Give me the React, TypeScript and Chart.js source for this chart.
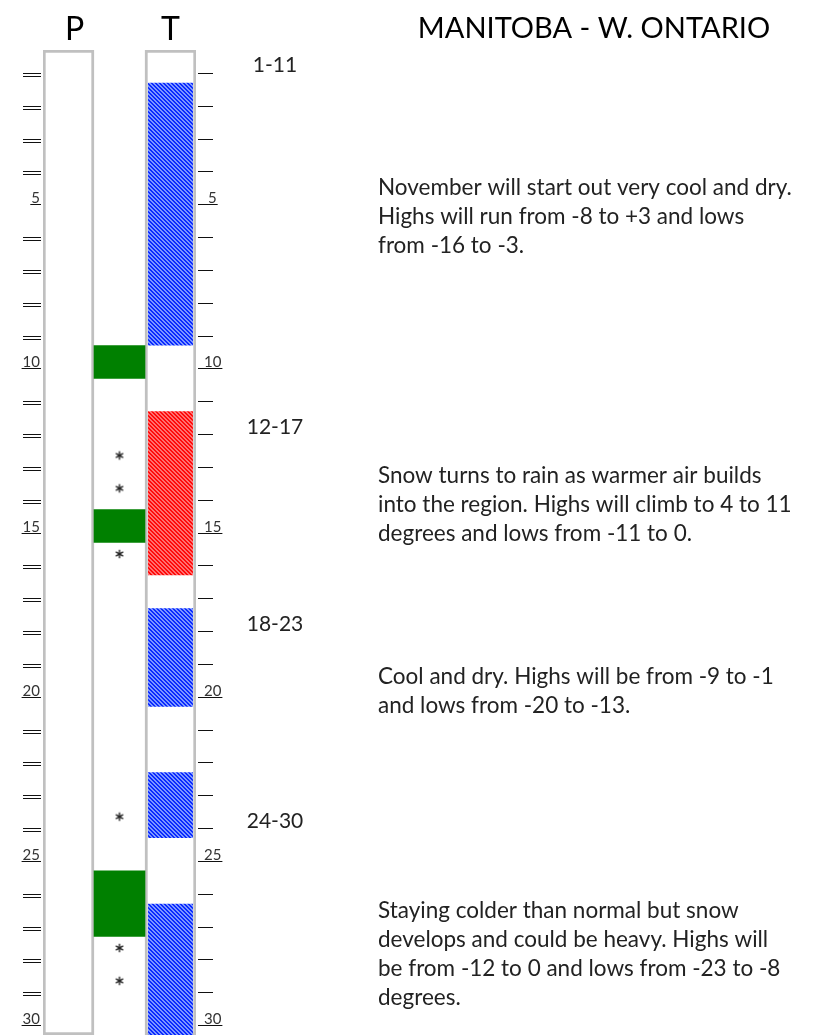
import React, { useEffect, useRef } from 'react';
import { Chart, registerables } from 'chart.js';

Chart.register(...registerables);

// ---- data ----
const columns = ['P', 'S', 'T'];
const headerLabels = ['P', '', 'T'];
const dayCount = 30;
const dayTicks = Array.from({ length: dayCount }, (_, i) => i + 1);
const labelEvery = 5;
const coldSpells = [[2, 9], [18, 20], [23, 24], [27, 30]];
const warmSpells = [[12, 16]];
const precipSpells = [[10, 10], [15, 15], [26, 27]];
const snowDays = [13, 14, 16, 24, 28, 29];
const title = 'MANITOBA - W. ONTARIO';
const periodLabels = ['1-11', '12-17', '18-23', '24-30'];
const periodStartDays = [1, 12, 18, 24];
const periodTexts = [
  ['November will start out very cool and dry.', 'Highs will run from -8 to +3 and lows', 'from -16 to -3.'],
  ['Snow turns to rain as warmer air builds', 'into the region. Highs will climb to 4 to 11', 'degrees and lows from -11 to 0.'],
  ['Cool and dry. Highs will be from -9 to -1', 'and lows from -20 to -13.'],
  ['Staying colder than normal but snow', 'develops and could be heavy. Highs will', 'be from -12 to 0 and lows from -23 to -8', 'degrees.'],
];

// ---- layout ----
const W = 817;
const H = 1035;
const FONT = 'Lato, "Open Sans", sans-serif';
const textAnchors = [4.415, 13.185, 19.306, 26.431];
const headerOffsets = [6, 0, 0];

function makeHatch(ctx: CanvasRenderingContext2D, dark: string, light: string) {
  const c = document.createElement('canvas');
  c.width = 4;
  c.height = 4;
  const g = c.getContext('2d')!;
  g.fillStyle = light;
  g.fillRect(0, 0, 4, 4);
  g.fillStyle = dark;
  for (let yy = 0; yy < 4; yy++) {
    for (let xx = 0; xx < 4; xx++) {
      if ((((xx - yy) % 4) + 4) % 4 < 2) g.fillRect(xx, yy, 1, 1);
    }
  }
  return ctx.createPattern(c, 'repeat')!;
}

function makeStar() {
  const c = document.createElement('canvas');
  c.width = 12;
  c.height = 12;
  const g = c.getContext('2d')!;
  g.strokeStyle = '#222';
  g.lineWidth = 1.4;
  g.translate(6, 6);
  for (let i = 0; i < 3; i++) {
    const a = Math.PI / 2 + (i * Math.PI) / 3;
    g.beginPath();
    g.moveTo(Math.cos(a) * 4.2, Math.sin(a) * 4.2);
    g.lineTo(-Math.cos(a) * 4.2, -Math.sin(a) * 4.2);
    g.stroke();
  }
  return c;
}

const decorPlugin = {
  id: 'decor',
  afterDatasetsDraw(chart: any) {
    const { ctx, chartArea, scales } = chart;
    const x = scales.x;
    const y = scales.y;
    const L = chartArea.left;
    const R = chartArea.right;
    ctx.save();
    ctx.lineWidth = 1;
    ctx.strokeStyle = '#111';
    ctx.font = '15px ' + FONT;
    dayTicks.forEach((d) => {
      const ty = Math.round(y.getPixelForValue(d - 0.3)) + 0.5;
      if (d % labelEvery === 0) {
        const lbl = String(d);
        const tw = ctx.measureText(lbl).width;
        ctx.fillStyle = '#333';
        ctx.textBaseline = 'alphabetic';
        ctx.textAlign = 'right';
        ctx.fillText(lbl, L - 3, ty - 2);
        ctx.beginPath();
        ctx.moveTo(L - 3 - tw - 1, ty);
        ctx.lineTo(L - 2, ty);
        ctx.stroke();
        ctx.textAlign = 'left';
        const rx = R + 8 + (2 - lbl.length) * 4;
        ctx.fillText(lbl, rx, ty - 2);
        ctx.beginPath();
        ctx.moveTo(R + 2, ty);
        ctx.lineTo(rx + tw + 1, ty);
        ctx.stroke();
      } else {
        ctx.beginPath();
        ctx.moveTo(L - 20, ty);
        ctx.lineTo(L - 2, ty);
        ctx.moveTo(L - 20, ty + 3);
        ctx.lineTo(L - 2, ty + 3);
        ctx.moveTo(R + 2, ty);
        ctx.lineTo(R + 17, ty);
        ctx.stroke();
      }
    });

    // column headers
    ctx.fillStyle = '#000';
    ctx.textAlign = 'center';
    ctx.textBaseline = 'alphabetic';
    ctx.font = '32px ' + FONT;
    headerLabels.forEach((h, i) => {
      if (h) ctx.fillText(h, x.getPixelForValue(i) + headerOffsets[i], chartArea.top - 10);
    });

    // title
    ctx.font = '29px ' + FONT;
    ctx.fillText(title, 594, 38);

    // period labels
    ctx.fillStyle = '#222';
    ctx.font = '21px ' + FONT;
    periodLabels.forEach((p, i) => {
      ctx.fillText(p, 275, y.getPixelForValue(periodStartDays[i] - 0.5) + 6);
    });

    // descriptions
    ctx.textAlign = 'left';
    ctx.font = '22.5px ' + FONT;
    periodTexts.forEach((lines, i) => {
      const base = y.getPixelForValue(textAnchors[i]);
      lines.forEach((ln, j) => ctx.fillText(ln, 378, base + j * 29));
    });
    ctx.restore();
  },
};

export default function App() {
  const ref = useRef<HTMLCanvasElement>(null);
  useEffect(() => {
    const canvas = ref.current!;
    const ctx = canvas.getContext('2d')!;
    const blue = makeHatch(ctx, '#0a2aff', '#7d97ff');
    const red = makeHatch(ctx, '#ff0a0a', '#ff7070');
    const star = makeStar();
    const tIdx = columns.indexOf('T');
    const pIdx = columns.indexOf('P');
    const sIdx = columns.indexOf('S');

    const onColumn = (idx: number, v: any) => columns.map((_, i) => (i === idx ? v : null));

    const datasets: any[] = [];
    coldSpells.forEach(([s, e]) =>
      datasets.push({
        type: 'bar',
        label: 'Below normal',
        data: onColumn(tIdx, [s - 1, e]),
        backgroundColor: blue,
        barPercentage: 0.88,
        order: 2,
      })
    );
    warmSpells.forEach(([s, e]) =>
      datasets.push({
        type: 'bar',
        label: 'Above normal',
        data: onColumn(tIdx, [s - 1, e]),
        backgroundColor: red,
        barPercentage: 0.88,
        order: 2,
      })
    );
    precipSpells.forEach(([s, e]) =>
      datasets.push({
        type: 'bar',
        label: 'Precipitation',
        data: onColumn(sIdx, [s - 1, e]),
        backgroundColor: '#008000',
        order: 2,
      })
    );
    datasets.push({
      type: 'scatter',
      label: 'Snow',
      data: snowDays.map((d) => ({ x: columns[sIdx], y: d - 0.65 })),
      pointStyle: star,
      order: 1,
    });
    datasets.push({
      type: 'bar',
      label: 'frame',
      data: columns.map((_, i) => (i === pIdx || i === tIdx ? [0, dayCount] : null)),
      backgroundColor: '#ffffff',
      borderColor: '#c0c0c0',
      borderWidth: 3,
      borderSkipped: false,
      order: 10,
    });

    const chart = new Chart(ctx, {
      type: 'bar',
      data: { labels: columns, datasets },
      options: {
        animation: false,
        responsive: false,
        events: [],
        layout: { autoPadding: false, padding: { left: 43, right: W - 196, top: 50, bottom: 0 } },
        plugins: { legend: { display: false }, tooltip: { enabled: false }, title: { display: false } },
        datasets: { bar: { grouped: false, categoryPercentage: 1, barPercentage: 1 } } as any,
        scales: {
          x: { type: 'category', display: false, offset: true },
          y: { type: 'linear', min: 0, max: dayCount, reverse: true, display: false },
        },
      },
      plugins: [decorPlugin],
    } as any);
    return () => chart.destroy();
  }, []);

  return (
    <div style={{ position: 'absolute', left: 0, top: 0, width: W, height: H, background: '#fff' }}>
      <canvas ref={ref} width={W} height={H} style={{ display: 'block' }} />
    </div>
  );
}
